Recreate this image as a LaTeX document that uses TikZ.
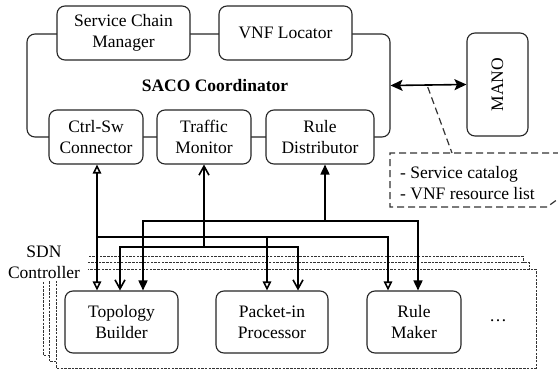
\documentclass[tikz,border=0pt]{standalone}
\usepackage{fontspec}
\setmainfont{Liberation Serif}
\newfontfamily\tms{Liberation Serif}
\usetikzlibrary{arrows.meta,calc}
\begin{document}
\begin{tikzpicture}[x=1pt,y=-1pt,
  font=\tms\fontsize{17.5}{21}\selectfont,
  box/.style={draw=black!85, line width=1.1pt, rounded corners=8pt, fill=white, align=center, inner sep=0pt},
  conn/.style={line width=1.6pt, black},
  layer/.style={draw=black!80, line width=0.7pt, dash pattern=on 2.5pt off 1.2pt, fill=white},
  calldash/.style={draw=black!80, line width=1.2pt, dash pattern=on 7pt off 4pt},
  otri/.tip={Triangle[open, length=9pt, width=8.5pt]},
  ftri/.tip={Triangle[length=10pt, width=9pt]},
  barb/.tip={Straight Barb[length=9pt, width=10pt]},
  stl/.tip={Stealth[length=12pt, width=11pt, inset=2.5pt]}]
\useasboundingbox (0,0) rectangle (558,372);

% SACO coordinator
\node[box, minimum width=363, minimum height=103] (saco) at (208.5,85.5) {};
\node[font=\tms\fontsize{17.5}{21}\selectfont\bfseries] (sacolbl) at (215,86) {SACO Coordinator};
\node[box, minimum width=133, minimum height=54] (scm) at (123.5,33) {Service Chain\\Manager};
\node[box, minimum width=133, minimum height=54] (vnf) at (285.5,33) {VNF Locator};
\node[box, minimum width=94, minimum height=54] (csw) at (96,137) {Ctrl-Sw\\Connector};
\node[box, minimum width=94, minimum height=54] (tm) at (204,137) {Traffic\\Monitor};
\node[box, minimum width=108, minimum height=54] (rd) at (320,137) {Rule\\Distributor};

% MANO
\node[box, minimum width=61, minimum height=103] (mano) at (497.5,84.5) {\rotatebox{90}{MANO}};
\draw[conn, stl-stl] (saco.east) -- (mano.west);

% callout
\coordinate (tap) at ($(saco.east)!0.49!(mano.west)+(0,2)$);
\coordinate (ctop) at (452,153);
\draw[calldash] (tap) -- (ctop);
\draw[calldash] (560,153) -- (390,153) -- (390,207) -- (547,207) -- (558,199);
\node[anchor=west, align=left, inner sep=0pt] (cat) at (400,183) {- Service catalog\\- VNF resource list};

% SDN controller layers
\draw[layer] (43,256) rectangle ++(480,99);
\draw[layer] (49.5,262.5) rectangle ++(480,99);
\draw[layer] (56,269) rectangle ++(480,99);
\node[fill=white, align=center, inner xsep=8pt, inner ysep=3pt] (sdn) at (44,262) {SDN\\Controller};

\node[box, minimum width=113, minimum height=62] (topo) at (121.5,322) {Topology\\Builder};
\node[box, minimum width=112, minimum height=62] (pkt) at (272,322) {Packet-in\\Processor};
\node[box, minimum width=94, minimum height=62] (rm) at (414,322) {Rule\\Maker};
\node[anchor=base] (dots) at (498,321) {\ldots};

% bus levels
\coordinate (bC) at (0,221);
\coordinate (bA) at (0,237);
\coordinate (bB) at (0,247);

% Ctrl-Sw tree
\coordinate (cswp) at ($(csw.south)+(1,0)$);
\draw[conn, otri-otri] (cswp) -- (cswp |- topo.north);
\draw[conn, -otri] (cswp |- bA) -| ($(pkt.north)+(-5,0)$);
\draw[conn, -otri] (cswp |- bA) -| ($(rm.north)+(-26,0)$);

% Traffic monitor tree
\draw[conn, barb-] (tm.south) -- (tm.south |- bB);
\draw[conn, -barb] (tm.south |- bB) -| ($(topo.north)+(-1.5,0)$);
\draw[conn, -barb] (tm.south |- bB) -| ($(pkt.north)+(26,0)$);

% Rule distributor tree
\coordinate (rdp) at ($(rd.south)+(5,0)$);
\draw[conn, ftri-] (rdp) -- (rdp |- bC);
\draw[conn, -ftri] (rdp |- bC) -| ($(topo.north)+(21.5,0)$);
\draw[conn, -ftri] (rdp |- bC) -| ($(rm.north)+(4,0)$);
\end{tikzpicture}
\end{document}
